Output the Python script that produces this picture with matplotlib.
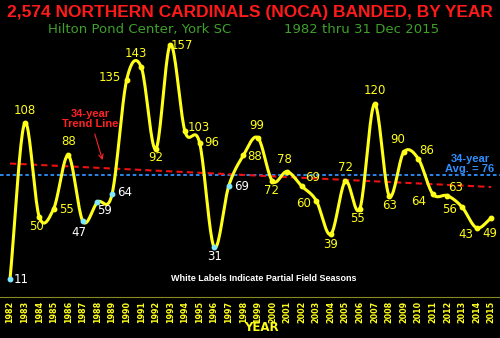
#!/usr/bin/env python3
# -*- coding: utf-8 -*-

"""
noca_by_year - Northern Cardinals banded per year at Hilton Pond
"""

import numpy as np
import matplotlib

matplotlib.use("Agg")
import matplotlib.pyplot as plt

# data
years = list(range(1982, 2016))
banded = [11, 108, 50, 55, 88, 47, 59, 64, 135, 143, 92, 157, 103, 96, 31, 69,
          88, 99, 72, 78, 69, 60, 39, 72, 55, 120, 63, 90, 86, 64, 63, 56, 43, 49]
partial_years = [1982, 1987, 1988, 1989, 1996, 1997]
average = 76

# label offsets in points (dx, dy) for each year's value label
label_offsets = [
    (8, 0), (0, 9), (-2, -7), (9, -1), (0, 10), (-3, -8), (5, -6), (9, 1),
    (-12, 2), (-4, 10), (0, -6), (8, -1), (10, 3), (9, 0), (0, -7), (9, 0),
    (8, -1), (-1, 9), (-1, -7), (-2, 9), (8, 6), (-9, -2), (0, -7), (0, 10),
    (-2, -7), (0, 10), (0, -7), (-4, 9), (6, 6), (-10, -5), (6, 6), (-9, -2),
    (-8, -5), (-1, -11),
]

YELLOW = "#ffff1a"
NARROW = "Liberation Sans"


def catmull_rom(x, y, n=20):
    # smooth curve through every point, like the spreadsheet "smoothed line"
    x = np.asarray(x, float)
    y = np.asarray(y, float)
    px = np.concatenate([[2 * x[0] - x[1]], x, [2 * x[-1] - x[-2]]])
    py = np.concatenate([[2 * y[0] - y[1]], y, [2 * y[-1] - y[-2]]])
    xs, ys = [], []
    t = np.linspace(0, 1, n, endpoint=False)
    for i in range(1, len(px) - 2):
        for p, out in ((px, xs), (py, ys)):
            p0, p1, p2, p3 = p[i - 1], p[i], p[i + 1], p[i + 2]
            out.extend(0.5 * ((2 * p1) + (-p0 + p2) * t
                              + (2 * p0 - 5 * p1 + 4 * p2 - p3) * t ** 2
                              + (-p0 + 3 * p1 - 3 * p2 + p3) * t ** 3))
    xs.append(x[-1])
    ys.append(y[-1])
    return np.array(xs), np.array(ys)


def main():

    fig = plt.figure(figsize=(5.0, 3.38), dpi=100, facecolor="black")
    ax = fig.add_axes([0, 0, 1, 1])
    ax.set_facecolor("black")
    ax.set_xlim(1981.314, 2015.607)
    ax.set_ylim(-25.5, 184.7)
    ax.axis("off")

    # average and trend lines
    ax.axhline(average, color="#2f8fff", linestyle=(0, (2, 1.5)), linewidth=1.3)
    slope, intercept = np.polyfit(years, banded, 1)
    trend_x = np.array([1982, 2015])
    ax.plot(trend_x, slope * trend_x + intercept, color="#ee1111",
            linestyle=(0, (3, 2)), linewidth=1.5)

    # smoothed yellow curve
    sx, sy = catmull_rom(years, banded)
    ax.plot(sx, sy, color=YELLOW, linewidth=2.2, solid_capstyle="round")

    for yr, val, (dx, dy) in zip(years, banded, label_offsets):
        partial = yr in partial_years
        ax.plot(yr, val, "o", markersize=3.2,
                color="#7fe8ff" if partial else YELLOW, zorder=4)
        ax.annotate(str(val), (yr, val), xytext=(dx, dy),
                    textcoords="offset points", ha="center", va="center",
                    fontsize=8.5, color="white" if partial else YELLOW)

    # x axis
    ax.axhline(0, color="#8a8a20", linewidth=0.8)
    for yr in years:
        ax.text(yr, -2.5, str(yr), rotation=90, ha="center", va="top",
                fontsize=5.8, fontweight="bold", color=YELLOW)
    fig.text(0.522, 0.03, "YEAR", ha="center", va="center", fontsize=8.5,
             fontweight="bold", color=YELLOW)

    # titles
    fig.text(0.5, 0.962, "2,574 NORTHERN CARDINALS (NOCA) BANDED, BY YEAR",
             ha="center", va="center", fontsize=12.5, fontweight="bold",
             color="#ff1a1a", family=NARROW)
    fig.text(0.28, 0.912, "Hilton Pond Center, York SC", ha="center",
             va="center", fontsize=9.5, color="#3fa02a")
    fig.text(0.723, 0.912, "1982 thru 31 Dec 2015", ha="center",
             va="center", fontsize=9.5, color="#3fa02a")

    # annotations
    ax.annotate("34-year\nTrend Line", xy=(1988.4, 83.5), xytext=(1987.5, 111),
                ha="center", va="center", fontsize=8, fontweight="bold",
                color="#ff2222", linespacing=1.0, family=NARROW,
                arrowprops=dict(arrowstyle="->", color="#ff2222", lw=0.8))
    ax.text(2013.55, 83, "34-year\nAvg. = 76", ha="center", va="center",
            fontsize=8, fontweight="bold", color="#2f8fff", linespacing=1.0,
            family=NARROW)
    ax.text(1999.4, 11.5, "White Labels Indicate Partial Field Seasons",
            ha="center", va="center", fontsize=6.5, fontweight="bold",
            color="white", family=NARROW)

    fig.savefig("out.png", dpi=100, facecolor="black")


if __name__ == "__main__":
    main()
